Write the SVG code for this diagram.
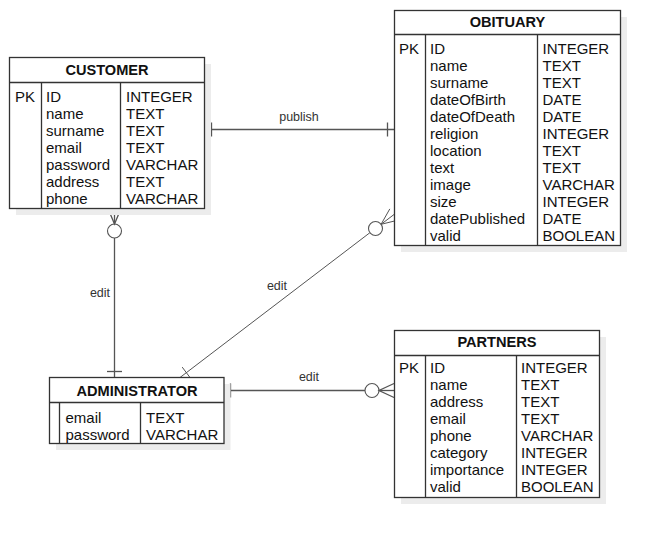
<svg xmlns="http://www.w3.org/2000/svg" width="661" height="538" viewBox="0 0 661 538">
<style>
.sh{fill:#ececec;stroke:none}
.box{fill:#fff;stroke:#333;stroke-width:1.3}
.ln{stroke:#333;stroke-width:1.3;fill:none}
.t{font-family:"Liberation Sans",Arial,sans-serif;font-size:15px;fill:#111}
.h{font-family:"Liberation Sans",Arial,sans-serif;font-size:14.6px;font-weight:bold;fill:#111;text-anchor:middle}
.c{stroke:#555;stroke-width:1.3;fill:none}
.cf{stroke:#555;stroke-width:1.1;fill:#fff}
.lb{font-family:"Liberation Sans",Arial,sans-serif;font-size:12.5px;fill:#333;text-anchor:middle}
</style>
<rect width="661" height="538" fill="#fff"/>
<g id="connectors">
  <!-- publish -->
  <line class="c" x1="204" y1="129.5" x2="394" y2="129.5"/>
  <line class="c" x1="211.5" y1="122.5" x2="211.5" y2="136.5"/>
  <line class="c" x1="387.5" y1="122.5" x2="387.5" y2="136.5"/>
  <text class="lb" x="299" y="121">publish</text>
  <!-- customer - administrator -->
  <line class="c" x1="114.5" y1="238" x2="114.5" y2="377.5"/>
  <circle class="cf" cx="114.5" cy="231" r="7"/>
  <polyline class="c" points="108,208.5 114.5,224 121,208.5"/>
  <line class="c" x1="114.5" y1="224" x2="114.5" y2="208.5"/>
  <line class="c" x1="107" y1="371.5" x2="122" y2="371.5"/>
  <text class="lb" x="100" y="297">edit</text>
  <!-- administrator - obituary -->
  <line class="c" style="stroke-width:1" x1="180" y1="377.5" x2="369.9" y2="232.7"/>
  <line class="c" style="stroke-width:1" x1="182.2" y1="367.1" x2="190.6" y2="378.3"/>
  <circle class="cf" cx="375.5" cy="228.5" r="7"/>
  <polyline class="c" style="stroke-width:1" points="389.8,208.9 381.1,224.3 398.2,220.1"/>
  <line class="c" style="stroke-width:1" x1="381.1" y1="224.3" x2="394" y2="214.5"/>
  <text class="lb" x="277" y="290">edit</text>
  <!-- administrator - partners -->
  <line class="c" x1="224" y1="390.5" x2="365" y2="390.5"/>
  <line class="c" x1="230.5" y1="383.5" x2="230.5" y2="397.5"/>
  <circle class="cf" cx="372" cy="390.5" r="7"/>
  <polyline class="c" points="394,383.5 379,390.5 394,397.5"/>
  <line class="c" x1="379" y1="390.5" x2="394" y2="390.5"/>
  <text class="lb" x="309" y="381">edit</text>
</g>
<g id="customer">
  <rect class="sh" x="16" y="64" width="195" height="151"/>
  <rect class="box" x="9.5" y="57.5" width="195" height="151"/>
  <line class="ln" x1="9.5" y1="82.5" x2="204.5" y2="82.5"/>
  <line class="ln" x1="41.5" y1="82.5" x2="41.5" y2="208.5"/>
  <line class="ln" x1="120.5" y1="82.5" x2="120.5" y2="208.5"/>
  <text class="h" x="107" y="75">CUSTOMER</text>
  <text class="t" x="15" y="102">PK</text>
  <text class="t" x="46" y="102">ID</text>
  <text class="t" x="46" y="119">name</text>
  <text class="t" x="46" y="136">surname</text>
  <text class="t" x="46" y="153">email</text>
  <text class="t" x="46" y="170">password</text>
  <text class="t" x="46" y="187">address</text>
  <text class="t" x="46" y="204">phone</text>
  <text class="t" x="126" y="102">INTEGER</text>
  <text class="t" x="126" y="119">TEXT</text>
  <text class="t" x="126" y="136">TEXT</text>
  <text class="t" x="126" y="153">TEXT</text>
  <text class="t" x="126" y="170">VARCHAR</text>
  <text class="t" x="126" y="187">TEXT</text>
  <text class="t" x="126" y="204">VARCHAR</text>
</g>
<g id="obituary">
  <rect class="sh" x="401" y="17" width="226" height="235"/>
  <rect class="box" x="394.5" y="10.5" width="226" height="235"/>
  <line class="ln" x1="394.5" y1="34.5" x2="620.5" y2="34.5"/>
  <line class="ln" x1="425.5" y1="34.5" x2="425.5" y2="245.5"/>
  <line class="ln" x1="537.5" y1="34.5" x2="537.5" y2="245.5"/>
  <text class="h" x="507.5" y="26.5">OBITUARY</text>
  <text class="t" x="399" y="53.5">PK</text>
  <text class="t" x="430" y="53.5">ID</text>
  <text class="t" x="430" y="70.5">name</text>
  <text class="t" x="430" y="87.5">surname</text>
  <text class="t" x="430" y="104.5">dateOfBirth</text>
  <text class="t" x="430" y="121.5">dateOfDeath</text>
  <text class="t" x="430" y="138.5">religion</text>
  <text class="t" x="430" y="155.5">location</text>
  <text class="t" x="430" y="172.5">text</text>
  <text class="t" x="430" y="189.5">image</text>
  <text class="t" x="430" y="206.5">size</text>
  <text class="t" x="430" y="223.5">datePublished</text>
  <text class="t" x="430" y="240.5">valid</text>
  <text class="t" x="542.5" y="53.5">INTEGER</text>
  <text class="t" x="542.5" y="70.5">TEXT</text>
  <text class="t" x="542.5" y="87.5">TEXT</text>
  <text class="t" x="542.5" y="104.5">DATE</text>
  <text class="t" x="542.5" y="121.5">DATE</text>
  <text class="t" x="542.5" y="138.5">INTEGER</text>
  <text class="t" x="542.5" y="155.5">TEXT</text>
  <text class="t" x="542.5" y="172.5">TEXT</text>
  <text class="t" x="542.5" y="189.5">VARCHAR</text>
  <text class="t" x="542.5" y="206.5">INTEGER</text>
  <text class="t" x="542.5" y="223.5">DATE</text>
  <text class="t" x="542.5" y="240.5">BOOLEAN</text>
</g>
<g id="administrator">
  <rect class="sh" x="56" y="384" width="174.5" height="66"/>
  <rect class="box" x="49.5" y="377.5" width="174.5" height="66"/>
  <line class="ln" x1="49.5" y1="402.5" x2="224" y2="402.5"/>
  <line class="ln" x1="59.5" y1="402.5" x2="59.5" y2="443.5"/>
  <line class="ln" x1="140.5" y1="402.5" x2="140.5" y2="443.5"/>
  <text class="h" x="137" y="396">ADMINISTRATOR</text>
  <text class="t" x="65.5" y="422.5">email</text>
  <text class="t" x="65.5" y="439.5">password</text>
  <text class="t" x="146" y="422.5">TEXT</text>
  <text class="t" x="146" y="439.5">VARCHAR</text>
</g>
<g id="partners">
  <rect class="sh" x="401" y="337" width="205" height="167"/>
  <rect class="box" x="394.5" y="330.5" width="205" height="167"/>
  <line class="ln" x1="394.5" y1="355.5" x2="599.5" y2="355.5"/>
  <line class="ln" x1="425.5" y1="355.5" x2="425.5" y2="497.5"/>
  <line class="ln" x1="516.5" y1="355.5" x2="516.5" y2="497.5"/>
  <text class="h" x="497" y="346.5">PARTNERS</text>
  <text class="t" x="399" y="373.3">PK</text>
  <text class="t" x="430" y="373.3">ID</text>
  <text class="t" x="430" y="390.3">name</text>
  <text class="t" x="430" y="407.3">address</text>
  <text class="t" x="430" y="424.3">email</text>
  <text class="t" x="430" y="441.3">phone</text>
  <text class="t" x="430" y="458.3">category</text>
  <text class="t" x="430" y="475.3">importance</text>
  <text class="t" x="430" y="492.3">valid</text>
  <text class="t" x="521" y="373.3">INTEGER</text>
  <text class="t" x="521" y="390.3">TEXT</text>
  <text class="t" x="521" y="407.3">TEXT</text>
  <text class="t" x="521" y="424.3">TEXT</text>
  <text class="t" x="521" y="441.3">VARCHAR</text>
  <text class="t" x="521" y="458.3">INTEGER</text>
  <text class="t" x="521" y="475.3">INTEGER</text>
  <text class="t" x="521" y="492.3">BOOLEAN</text>
</g>
</svg>
